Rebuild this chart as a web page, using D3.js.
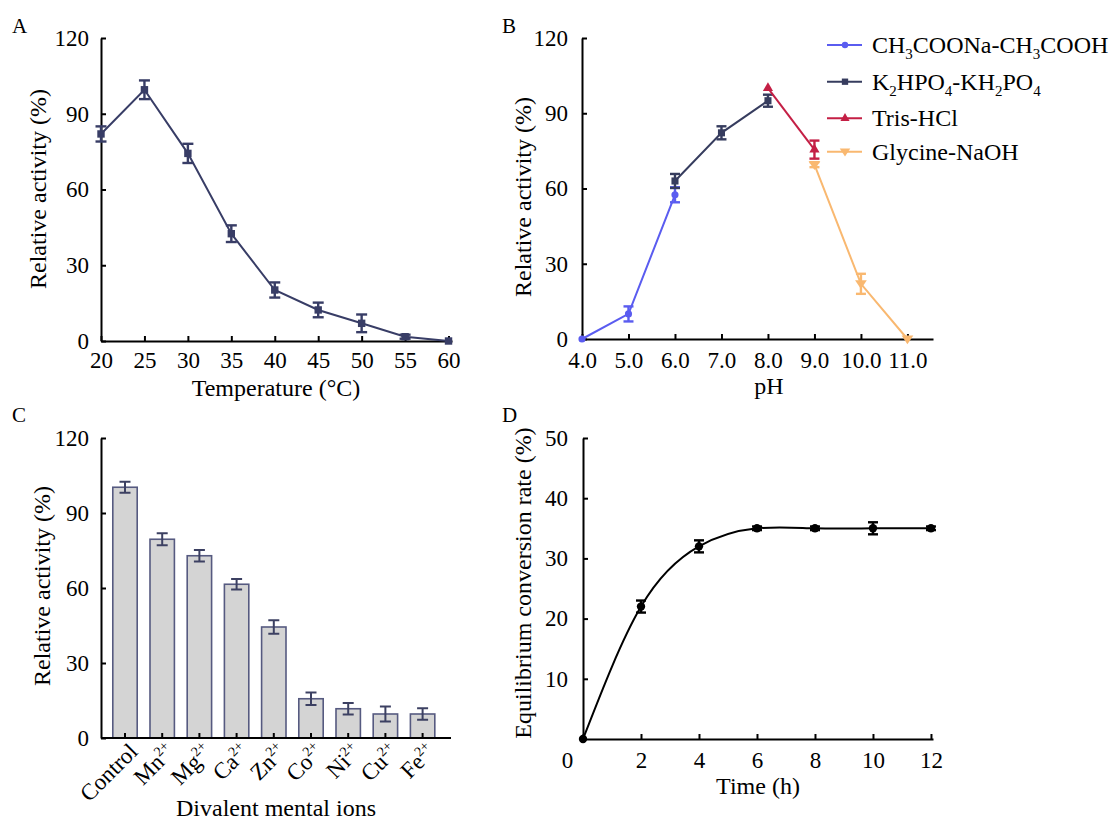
<!DOCTYPE html>
<html><head><meta charset="utf-8">
<script src="https://cdn.jsdelivr.net/npm/d3@7"></script>
<style>body{margin:0;background:#fff}</style>
</head><body><svg id="c" width="1110" height="821"></svg>
<script>
const FONT = "'Liberation Serif','Times New Roman',Times,serif";

// ---------- Panel A data ----------
const tempC   = [20, 25, 30, 35, 40, 45, 50, 55, 60];
const tempAct = [82, 99.5, 74.3, 42.5, 20.2, 12.3, 7, 1.7, 0];
const tempErr = [3, 3.7, 3.8, 3.3, 3, 2.9, 3.5, 0.8, 0];
const tempTicks = [20, 25, 30, 35, 40, 45, 50, 55, 60];
const actTicks  = [0, 30, 60, 90, 120];

// ---------- Panel B data ----------
const phAcetate = [4, 5, 6],   actAcetate = [0, 10, 57.5],   errAcetate = [0, 3, 3];
const phPhos    = [6, 7, 8],   actPhos    = [63, 82.2, 95],  errPhos    = [2.8, 2.6, 2.4];
const phTris    = [8, 9],      actTris    = [100, 75.5],     errTris    = [0, 3.6];
const phGly     = [9, 10, 11], actGly     = [69.5, 22, 0],   errGly     = [1, 4, 0];
const phTicks   = [4, 5, 6, 7, 8, 9, 10, 11];

// ---------- Panel C data ----------
const ions    = ["Control", "Mn", "Mg", "Ca", "Zn", "Co", "Ni", "Cu", "Fe"];
const charges = ["", "2+", "2+", "2+", "2+", "2+", "2+", "2+", "2+"];
const ionAct  = [100.3, 79.5, 72.9, 61.5, 44.4, 15.7, 11.7, 9.6, 9.6];
const ionErr  = [2.2, 2.4, 2.3, 2.1, 2.7, 2.5, 2.3, 3, 2.3];

// ---------- Panel D data ----------
const timeH    = [0, 2, 4, 6, 8, 10, 12];
const convRate = [0, 22, 32, 35, 35, 35, 35];
const convErr  = [0, 1, 1, 0.3, 0.3, 1, 0.3];
const timeTicks = [0, 2, 4, 6, 8, 10, 12];
const convTicks = [10, 20, 30, 40, 50];

const svg = d3.select("#c").attr("font-family", FONT);
svg.append("rect").attr("width", 1110).attr("height", 821).attr("fill", "#fff");

function styleAxis(g) {
  g.attr("font-family", FONT).attr("font-size", 23);
  g.select(".domain").attr("stroke", "#000").attr("stroke-width", 2);
  g.selectAll(".tick line").attr("stroke", "#000").attr("stroke-width", 2);
  g.selectAll(".tick text").attr("fill", "#000");
}
function label(txt, x, y, size, anchor, rot) {
  const t = svg.append("text").text(txt).attr("font-size", size).attr("fill", "#000")
    .attr("text-anchor", anchor || "start");
  if (rot) t.attr("transform", `translate(${x},${y}) rotate(${rot})`);
  else t.attr("x", x).attr("y", y);
  return t;
}
function errorBars(g, xs, ys, es, x, y, color, cap, sw) {
  xs.forEach((xv, i) => {
    if (!es[i]) return;
    const cx = x(xv), y1 = y(ys[i] - es[i]), y2 = y(ys[i] + es[i]);
    g.append("line").attr("x1", cx).attr("x2", cx).attr("y1", y1).attr("y2", y2)
      .attr("stroke", color).attr("stroke-width", sw);
    [y1, y2].forEach(yy => g.append("line").attr("x1", cx - cap / 2).attr("x2", cx + cap / 2)
      .attr("y1", yy).attr("y2", yy).attr("stroke", color).attr("stroke-width", sw));
  });
}
function markers(g, xs, ys, x, y, color, type, size) {
  const sym = d3.symbol().type(type).size(size);
  xs.forEach((xv, i) => {
    g.append("path").attr("d", sym())
      .attr("transform", `translate(${x(xv)},${y(ys[i])})`)
      .attr("fill", color);
  });
}
const triDown = { draw(ctx, size) { const r = Math.sqrt(size / 1.3); ctx.moveTo(-r, -r * 0.6); ctx.lineTo(r, -r * 0.6); ctx.lineTo(0, r * 0.9); ctx.closePath(); } };

// ================= Panel A =================
{
  const x = d3.scaleLinear().domain([20, 60.4]).range([101, 452]);
  const y = d3.scaleLinear().domain([0, 120]).range([341, 38]);
  svg.append("g").attr("transform", "translate(0,341)")
    .call(d3.axisBottom(x).tickValues(tempTicks).tickSizeInner(-5).tickSizeOuter(0).tickPadding(11)).call(styleAxis);
  svg.append("g").attr("transform", "translate(101,0)")
    .call(d3.axisLeft(y).tickValues(actTicks).tickSizeInner(-5).tickSizeOuter(0).tickPadding(12)).call(styleAxis);
  const col = "#383d66";
  const g = svg.append("g");
  g.append("path").datum(tempC.map((t, i) => [t, tempAct[i]]))
    .attr("d", d3.line().x(d => x(d[0])).y(d => y(d[1])))
    .attr("fill", "none").attr("stroke", col).attr("stroke-width", 2);
  errorBars(g, tempC, tempAct, tempErr, x, y, col, 11, 2.4);
  markers(g, tempC, tempAct, x, y, col, d3.symbolSquare, 55);
  label("A", 12, 33, 21);
  label("Relative activity (%)", 46, 189, 24, "middle", -90);
  label("Temperature (°C)", 276, 396, 24, "middle");
}

// ================= Panel B =================
{
  const x = d3.scaleLinear().domain([4, 11.55]).range([582, 933]);
  const y = d3.scaleLinear().domain([0, 120]).range([339, 38]);
  svg.append("g").attr("transform", "translate(0,339)")
    .call(d3.axisBottom(x).tickValues(phTicks).tickFormat(d3.format(".1f")).tickSizeInner(-5).tickSizeOuter(0).tickPadding(13)).call(styleAxis);
  svg.append("g").attr("transform", "translate(582,0)")
    .call(d3.axisLeft(y).tickValues(actTicks).tickSizeInner(-5).tickSizeOuter(0).tickPadding(14)).call(styleAxis);
  const series = [
    { xs: phAcetate, ys: actAcetate, es: errAcetate, col: "#5a5cf0", sym: d3.symbolCircle, size: 40 },
    { xs: phPhos, ys: actPhos, es: errPhos, col: "#363c5e", sym: d3.symbolSquare, size: 50 },
    { xs: phTris, ys: actTris, es: errTris, col: "#c41f45", sym: d3.symbolTriangle, size: 45 },
    { xs: phGly, ys: actGly, es: errGly, col: "#f9b870", sym: triDown, size: 45 }
  ];
  const g = svg.append("g");
  series.forEach(s => {
    g.append("path").datum(s.xs.map((p, i) => [p, s.ys[i]]))
      .attr("d", d3.line().x(d => x(d[0])).y(d => y(d[1])))
      .attr("fill", "none").attr("stroke", s.col).attr("stroke-width", 2);
    errorBars(g, s.xs, s.ys, s.es, x, y, s.col, 10, 2.4);
    markers(g, s.xs, s.ys, x, y, s.col, s.sym, s.size);
  });
  // legend
  const legendNames = [
    [["CH", 0], ["3", 1], ["COONa-CH", 0], ["3", 1], ["COOH", 0]],
    [["K", 0], ["2", 1], ["HPO", 0], ["4", 1], ["-KH", 0], ["2", 1], ["PO", 0], ["4", 1]],
    [["Tris-HCl", 0]],
    [["Glycine-NaOH", 0]]
  ];
  const rowY = [45, 81.7, 118.3, 151.7];
  series.forEach((s, i) => {
    const ly = rowY[i];
    g.append("line").attr("x1", 827).attr("x2", 862).attr("y1", ly).attr("y2", ly)
      .attr("stroke", s.col).attr("stroke-width", 2);
    g.append("path").attr("d", d3.symbol().type(s.sym).size(s.size * 0.8)())
      .attr("transform", `translate(845,${ly})`).attr("fill", s.col);
    const t = g.append("text").attr("x", 872).attr("y", ly + 8).attr("font-size", 24).attr("fill", "#000");
    let prevSub = false;
    legendNames[i].forEach(([txt, sub]) => {
      const ts = t.append("tspan").text(txt);
      if (sub && !prevSub) ts.attr("dy", 6);
      else if (!sub && prevSub) ts.attr("dy", -6);
      if (sub) ts.attr("font-size", 15);
      prevSub = !!sub;
    });
  });
  label("B", 502, 33, 21);
  label("Relative activity (%)", 531, 197, 24, "middle", -90);
  label("pH", 769, 394, 24, "middle");
}

// ================= Panel C =================
{
  const x = d3.scaleBand().domain(ions).range([106.4, 441.2]).paddingInner(0.344).paddingOuter(0.172);
  const y = d3.scaleLinear().domain([0, 120]).range([738, 438]);
  const g = svg.append("g");
  ions.forEach((ion, i) => {
    g.append("rect").attr("x", x(ion)).attr("width", x.bandwidth())
      .attr("y", y(ionAct[i])).attr("height", y(0) - y(ionAct[i]))
      .attr("fill", "#d4d4d4").attr("stroke", "#565a80").attr("stroke-width", 1.6);
  });
  const centers = ions.map(d => x(d) + x.bandwidth() / 2);
  const xc = v => v; // centers already in pixels
  errorBars(g, centers, ionAct, ionErr, xc, y, "#3c4062", 11, 2);
  const ax = svg.append("g").attr("transform", "translate(0,738)")
    .call(d3.axisBottom(x).tickSizeInner(-5).tickSizeOuter(0).tickFormat("")).call(styleAxis);
  ax.select(".domain").remove();
  ax.append("line").attr("x1", 101).attr("x2", 451).attr("y1", 0).attr("y2", 0)
    .attr("stroke", "#000").attr("stroke-width", 2);
  svg.append("g").attr("transform", "translate(101,0)")
    .call(d3.axisLeft(y).tickValues(actTicks).tickSizeInner(-5).tickSizeOuter(0).tickPadding(12)).call(styleAxis);
  ions.forEach((ion, i) => {
    const cx = x(ion) + x.bandwidth() / 2;
    const t = svg.append("text").attr("font-size", 23).attr("text-anchor", "end").attr("fill", "#000")
      .attr("transform", `translate(${cx + 14},${738 + 15}) rotate(-45)`);
    t.append("tspan").text(ion);
    if (charges[i]) t.append("tspan").text(charges[i]).attr("font-size", 14).attr("dy", -9);
  });
  label("C", 12, 422, 21);
  label("Relative activity (%)", 50, 586, 24, "middle", -90);
  label("Divalent mental ions", 276, 816, 24, "middle");
}

// ================= Panel D =================
{
  const x = d3.scaleLinear().domain([0, 12.07]).range([583, 933]);
  const y = d3.scaleLinear().domain([0, 50]).range([739, 438]);
  const axX = svg.append("g").attr("transform", "translate(0,739)")
    .call(d3.axisBottom(x).tickValues(timeTicks).tickSizeInner(-5).tickSizeOuter(0).tickPadding(13)).call(styleAxis);
  axX.selectAll(".tick text").filter(d => d === 0).attr("dx", -16);
  svg.append("g").attr("transform", "translate(583,0)")
    .call(d3.axisLeft(y).tickValues(convTicks).tickSizeInner(-5).tickSizeOuter(0).tickPadding(15)).call(styleAxis);
  const g = svg.append("g");
  g.append("path").datum(timeH.map((t, i) => [t, convRate[i]]))
    .attr("d", d3.line().curve(d3.curveNatural).x(d => x(d[0])).y(d => y(d[1])))
    .attr("fill", "none").attr("stroke", "#000").attr("stroke-width", 2);
  errorBars(g, timeH, convRate, convErr, x, y, "#000", 10, 2.4);
  markers(g, timeH, convRate, x, y, "#000", d3.symbolCircle, 55);
  label("D", 502, 422, 21);
  label("Equilibrium conversion rate (%)", 531, 583, 24, "middle", -90);
  label("Time (h)", 758, 794, 24, "middle");
}
</script></body></html>
